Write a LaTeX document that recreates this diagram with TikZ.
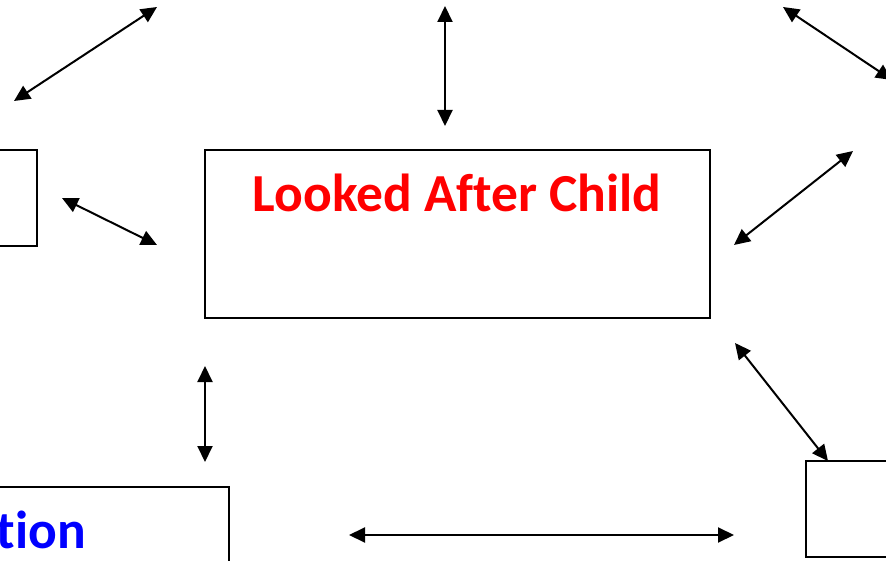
\documentclass[tikz,border=0pt]{standalone}
\usepackage{fontspec}
\setmainfont{Carlito}[Ligatures=NoCommon]
\usetikzlibrary{arrows.meta}
\definecolor{labelred}{RGB}{255,0,0}
\definecolor{labelblue}{RGB}{0,0,255}
\tikzset{
  box/.style={draw=black, line width=1.5pt, fill=none, inner sep=0pt},
  link/.style={line width=2pt, >={Triangle[length=16pt,width=15pt]}, <->},
  title/.style={font=\fontsize{53.5}{60}\selectfont\bfseries, inner sep=0pt}
}
\begin{document}
\begin{tikzpicture}[x=1pt,y=-1pt]
  \useasboundingbox (0,0) rectangle (886,561);
  \clip (0,0) rectangle (886,561);

  % boxes
  \node[box, minimum width=505pt, minimum height=168pt] (lac) at (457.5,234) {};
  \node[title, text=labelred, anchor=base] (lactext) at (457,212) {Looked After Child};
  \node[box, minimum width=77pt, minimum height=96pt] (leftbox) at (-1.5,198) {};
  \node[box, minimum width=259pt, minimum height=130pt] (edubox) at (99.5,552) {};
  \node[title, text=labelblue, anchor=base east] (edutext) at (86,548) {tion};
  \node[box, minimum width=120pt, minimum height=96pt] (rightbox) at (866,509) {};

  % connector end points
  \coordinate (a1) at (14,101);  \coordinate (a2) at (157,7);
  \coordinate (b1) at (445,6);   \coordinate (b2) at (445,126);
  \coordinate (c1) at (783,7);   \coordinate (c2) at (892,80);
  \coordinate (d1) at (62,198);  \coordinate (d2) at (157,245);
  \coordinate (e1) at (853,151); \coordinate (e2) at (734,245);
  \coordinate (f1) at (205,366); \coordinate (f2) at (205,462);
  \coordinate (g1) at (735,343); \coordinate (g2) at (828,461);
  \coordinate (h1) at (349,535); \coordinate (h2) at (734,535);

  % two-way links
  \draw[link] (a1) -- (a2);
  \draw[link] (b1) -- (b2);
  \draw[link] (c1) -- (c2);
  \draw[link] (d1) -- (d2);
  \draw[link] (e1) -- (e2);
  \draw[link] (f1) -- (f2);
  \draw[link] (g1) -- (g2);
  \draw[link] (h1) -- (h2);
\end{tikzpicture}
\end{document}
